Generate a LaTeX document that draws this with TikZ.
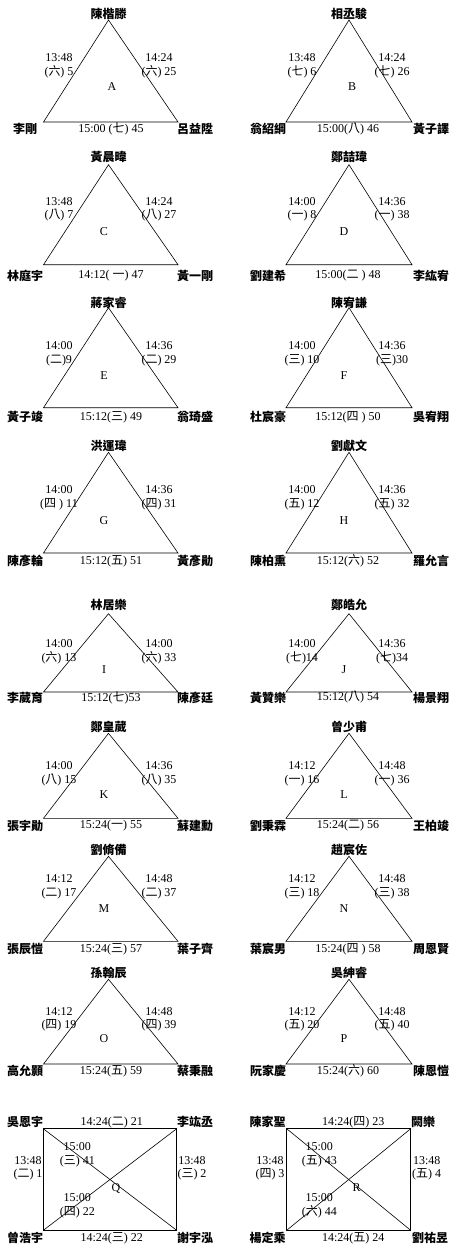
\documentclass[tikz,border=0pt]{standalone}
\usepackage{fontspec}
\setmainfont{Liberation Serif}
\newfontfamily\cjk{Noto Sans CJK TC}
\newcommand\dy[1]{{\cjk #1}}
\newcommand\setrow[7]{\def\rN{#1}\def\rA{#2}\def\rT{#3}\def\rL{#4}\def\rB{#5}\def\rD{#6}\def\rLoff{#7}}
\newcommand\setcolL{\def\cAx{108.5}\def\cLx{43.5}\def\cRx{178}\def\cNl{25}\def\cNr{195}\def\cSl{59}\def\cSr{159}\def\cLet{104}\def\cBot{111}}
\newcommand\setcolR{\def\cAx{349}\def\cLx{286}\def\cRx{412}\def\cNl{268}\def\cNr{431}\def\cSl{302}\def\cSr{392}\def\cLet{344}\def\cBot{348}}
\tikzset{
  edge/.style={line width=0.6pt},
  tlab/.style={inner sep=0pt, font=\fontsize{12}{13.5}\selectfont, align=center},
  pname/.style={inner sep=0pt, font=\cjk\bfseries\fontsize{12}{13.5}\selectfont}
}
\newcommand\tri[8]{%
  \csname setcol#2\endcsname
  \coordinate (#1apex) at (\cAx,\rA);
  \coordinate (#1bl) at (\cLx,\rB);
  \coordinate (#1br) at (\cRx,\rB);
  \draw[edge] (#1apex) -- (#1bl) -- (#1br) -- cycle;
  \node[pname] (#1top) at (\cAx,\rN) {#3};
  \node[pname] (#1nl) at (\cNl,\rD) {#4};
  \node[pname] (#1nr) at (\cNr,\rD) {#5};
  \node[tlab] (#1sl) at (\cSl,\rT) {#6};
  \node[tlab] (#1sr) at (\cSr,\rT) {#7};
  \node[tlab] (#1bot) at (\cBot,\rD) {#8};
  \node[tlab] (#1let) at (\cLet+\rLoff,\rL) {#1};
}
\begin{document}
\begin{tikzpicture}[x=1pt,y=-1pt]
\useasboundingbox (0,0) rectangle (449,1245);
\fill[white] (0,0) rectangle (449,1245);
\setrow{14}{20}{66}{87}{122}{129}{8}
\tri{A}{L}{陳楷滕}{李剛}{呂益陞}{13:48\\(\dy{六}) 5}{14:24\\(\dy{六}) 25}{15:00 (\dy{七}) 45}
\tri{B}{R}{相丞駿}{翁紹綱}{黃子譯}{13:48\\(\dy{七}) 6}{14:24\\(\dy{七}) 26}{15:00(\dy{八}) 46}
\setrow{157.3}{164.7}{209.3}{231.3}{264.7}{276}{0}
\tri{C}{L}{黃晨暐}{林庭宇}{黃一剛}{13:48\\(\dy{八}) 7}{14:24\\(\dy{八}) 27}{14:12( \dy{一}) 47}
\tri{D}{R}{鄭喆瑋}{劉建希}{李紘宥}{14:00\\(\dy{一}) 8}{14:36\\(\dy{一}) 38}{15:00(\dy{二} ) 48}
\setrow{302.7}{307.7}{354}{376}{407.7}{417}{0}
\tri{E}{L}{蔣家睿}{黃子竣}{翁琦盛}{14:00\\(\dy{二})9}{14:36\\(\dy{二}) 29}{15:12(\dy{三}) 49}
\tri{F}{R}{陳宥謙}{杜宸豪}{吳宥翔}{14:00\\(\dy{三}) 10}{14:36\\(\dy{三})30}{15:12(\dy{四} ) 50}
\setrow{446.3}{452.3}{497.7}{520.7}{553}{561}{0}
\tri{G}{L}{洪運瑋}{陳彥輪}{黃彥勛}{14:00\\(\dy{四} ) 11}{14:36\\(\dy{四}) 31}{15:12(\dy{五}) 51}
\tri{H}{R}{劉獻文}{陳柏熏}{羅允言}{14:00\\(\dy{五}) 12}{14:36\\(\dy{五}) 32}{15:12(\dy{六}) 52}
\setrow{605.3}{613.7}{651.7}{670}{692}{697.5}{0}
\tri{I}{L}{林居樂}{李葳育}{陳彥廷}{14:00\\(\dy{六}) 13}{14:00\\(\dy{六}) 33}{15:12(\dy{七})53}
\tri{J}{R}{鄭皓允}{黃贊樂}{楊景翔}{14:00\\(\dy{七})14}{14:36\\(\dy{七})34}{15:12(\dy{八}) 54}
\setrow{727.3}{733.3}{773.7}{795}{818.3}{826}{0}
\tri{K}{L}{鄭皇葳}{張宇勛}{蘇建勳}{14:00\\(\dy{八}) 15}{14:36\\(\dy{八}) 35}{15:24(\dy{一}) 55}
\tri{L}{R}{曾少甫}{劉秉霖}{王柏竣}{14:12\\(\dy{一}) 16}{14:48\\(\dy{一}) 36}{15:24(\dy{二}) 56}
\setrow{849.7}{856.3}{887}{909}{941.3}{949}{0}
\tri{M}{L}{劉脩備}{張辰愷}{葉子齊}{14:12\\(\dy{二}) 17}{14:48\\(\dy{二}) 37}{15:24(\dy{三}) 57}
\tri{N}{R}{趙宸佐}{葉宸男}{周恩賢}{14:12\\(\dy{三}) 18}{14:48\\(\dy{三}) 38}{15:24(\dy{四} ) 58}
\setrow{973.3}{979.3}{1019.5}{1039}{1064}{1071}{0}
\tri{O}{L}{孫翰辰}{高允顥}{蔡秉融}{14:12\\(\dy{四}) 19}{14:48\\(\dy{四}) 39}{15:24(\dy{五}) 59}
\tri{P}{R}{吳紳睿}{阮家慶}{陳恩愷}{14:12\\(\dy{五}) 20}{14:48\\(\dy{五}) 40}{15:24(\dy{六}) 60}
% Q
\coordinate (Qtl) at (43.3,1128.7);
\coordinate (Qtr) at (176.7,1128.7);
\coordinate (Qbl) at (43.3,1230.3);
\coordinate (Qbr) at (176.7,1230.3);
\draw[edge] (Qtl) -- (Qtr) -- (Qbr) -- (Qbl) -- cycle;
\draw[edge] (Qtl) -- (Qbr);
\draw[edge] (Qbl) -- (Qtr);
\node[pname] (Qntl) at (25,1122.3) {吳恩宇};
\node[pname] (Qntr) at (195,1122.3) {李竑丞};
\node[pname] (Qnbl) at (25,1238) {曾浩宇};
\node[pname] (Qnbr) at (195,1238) {謝宇泓};
\node[tlab] (Qtop) at (111.7,1122.3) {14:24(\dy{二}) 21};
\node[tlab] (Qbot) at (111.7,1238) {14:24(\dy{三}) 22};
\node[tlab] (Qsl) at (28,1168.5) {13:48\\(\dy{二}) 1};
\node[tlab] (Qsr) at (192,1168.5) {13:48\\(\dy{三}) 2};
\node[tlab] (Qiu) at (77.3,1155) {15:00\\(\dy{三}) 41};
\node[tlab] (Qil) at (77.3,1206) {15:00\\(\dy{四}) 22};
\node[tlab] (Qlet) at (116,1188) {Q};
% R
\coordinate (Rtl) at (286.7,1128.7);
\coordinate (Rtr) at (410.7,1128.7);
\coordinate (Rbl) at (286.7,1230.3);
\coordinate (Rbr) at (410.7,1230.3);
\draw[edge] (Rtl) -- (Rtr) -- (Rbr) -- (Rbl) -- cycle;
\draw[edge] (Rtl) -- (Rbr);
\draw[edge] (Rbl) -- (Rtr);
\node[pname] (Rntl) at (267.5,1122.3) {陳家聖};
\node[pname] (Rntr) at (423,1122.3) {闕樂};
\node[pname] (Rnbl) at (267.5,1238) {楊定乘};
\node[pname] (Rnbr) at (430,1238) {劉祐昱};
\node[tlab] (Rtop) at (353.3,1122.3) {14:24(\dy{四}) 23};
\node[tlab] (Rbot) at (353.3,1238) {14:24(\dy{五}) 24};
\node[tlab] (Rsl) at (270,1168.5) {13:48\\(\dy{四}) 3};
\node[tlab] (Rsr) at (426.7,1168.5) {13:48\\(\dy{五}) 4};
\node[tlab] (Riu) at (319.3,1155) {15:00\\(\dy{五}) 43};
\node[tlab] (Ril) at (319.3,1206) {15:00\\(\dy{六}) 44};
\node[tlab] (Rlet) at (356.7,1188) {R};
\end{tikzpicture}
\end{document}
